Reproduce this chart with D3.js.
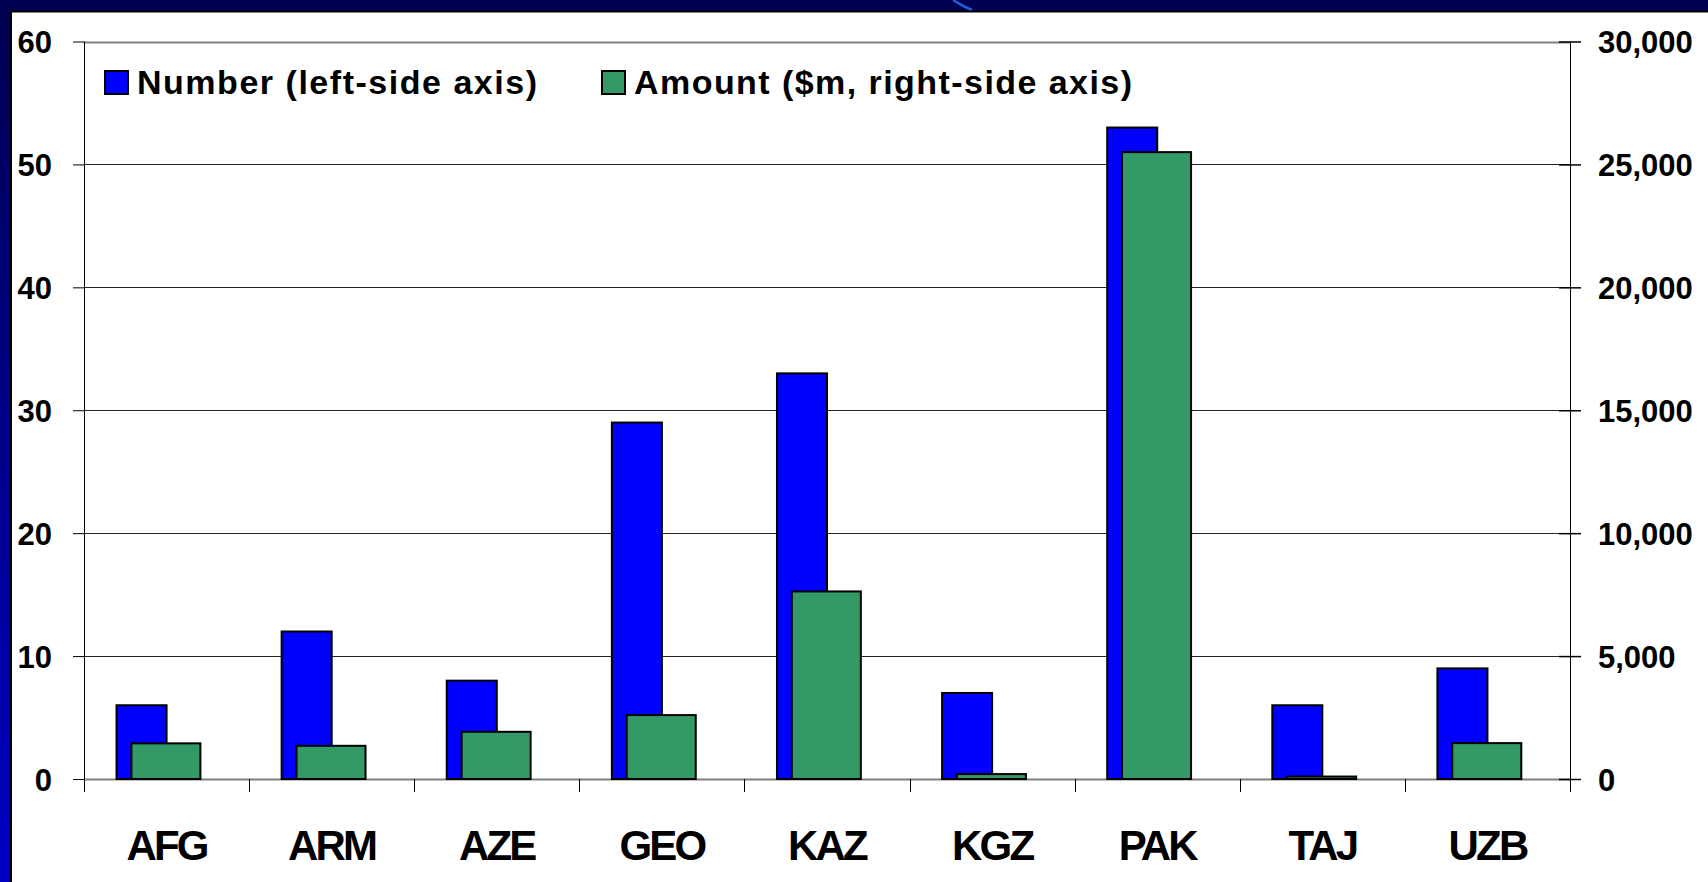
<!DOCTYPE html>
<html>
<head>
<meta charset="utf-8">
<script src="https://cdn.jsdelivr.net/npm/d3@7"></script>
<style>
  html, body { margin: 0; padding: 0; background: #fff; }
  svg { display: block; }
  text { font-family: "Liberation Sans", Arial, sans-serif; font-weight: bold; fill: #000; }
</style>
</head>
<body>
<svg id="chart" width="1708" height="882"></svg>
<script>
// Countries on the category axis
const categories = ["AFG", "ARM", "AZE", "GEO", "KAZ", "KGZ", "PAK", "TAJ", "UZB"];
// Number of operations (left-side axis)
const numberValues = [6, 12, 8, 29, 33, 7, 53, 6, 9];
// Amount in $m (right-side axis)
const amountValues = [1450, 1350, 1920, 2600, 7630, 200, 25500, 100, 1460];
// Axis tick values
const leftTicks = [0, 10, 20, 30, 40, 50, 60];
const rightTicks = [0, 5000, 10000, 15000, 20000, 25000, 30000];
// Legend entries
const legendLabels = ["Number (left-side axis)", "Amount ($m, right-side axis)"];

const svg = d3.select("#chart");
const W = 1708, H = 882;

// Slide frame: dark navy top band and a left band fading to bright blue
const defs = svg.append("defs");
const grad = defs.append("linearGradient").attr("id", "sideGrad")
  .attr("x1", 0).attr("y1", 0).attr("x2", 0).attr("y2", 1);
grad.append("stop").attr("offset", "0%").attr("stop-color", "#000050");
grad.append("stop").attr("offset", "100%").attr("stop-color", "#0000c4");

svg.append("rect").attr("x", 0).attr("y", 0).attr("width", W).attr("height", H).attr("fill", "#fff");
svg.append("rect").attr("x", 0).attr("y", 0).attr("width", 11).attr("height", H).attr("fill", "url(#sideGrad)");
svg.append("rect").attr("x", 0).attr("y", 0).attr("width", W).attr("height", 11).attr("fill", "#000050");
svg.append("path").attr("d", "M953,0 Q962,6 972,10").attr("stroke", "#1d5fe0").attr("stroke-width", 2.5).attr("fill", "none");
svg.append("line").attr("x1", 11).attr("x2", W).attr("y1", 11.5).attr("y2", 11.5).attr("stroke", "#000").attr("stroke-width", 2);
svg.append("line").attr("x1", 11).attr("x2", 11).attr("y1", 11).attr("y2", H).attr("stroke", "#000").attr("stroke-width", 2);

// Plot geometry
const plotLeft = 84, plotRight = 1570, plotTop = 41.5, plotBottom = 779;

const x = d3.scaleBand().domain(categories).range([plotLeft, plotRight]).padding(0);
const yL = d3.scaleLinear().domain([0, 60]).range([plotBottom, plotTop]);
const yR = d3.scaleLinear().domain([0, 30000]).range([plotBottom, plotTop]);
const bw = x.bandwidth();

// Horizontal gridlines
svg.append("g").selectAll("line").data(leftTicks).join("line")
  .attr("x1", plotLeft).attr("x2", plotRight)
  .attr("y1", d => Math.round(yL(d)) + 0.5).attr("y2", d => Math.round(yL(d)) + 0.5)
  .attr("stroke", d => (d === 0 || d === 60) ? "#808080" : "#222")
  .attr("stroke-width", d => (d === 0 || d === 60) ? 2 : 1.2);

// Bars: number series sits left of the category centre, amount series overlays it
const blueX0 = -0.303, blueX1 = 0.0;
const greenX0 = -0.213, greenX1 = 0.205;

svg.append("g").selectAll("rect").data(categories).join("rect")
  .attr("x", (d) => x(d) + bw / 2 + blueX0 * bw)
  .attr("width", (blueX1 - blueX0) * bw)
  .attr("y", (d, i) => yL(numberValues[i]))
  .attr("height", (d, i) => plotBottom - yL(numberValues[i]))
  .attr("fill", "#0000ff").attr("stroke", "#000").attr("stroke-width", 2);

svg.append("g").selectAll("rect").data(categories).join("rect")
  .attr("x", (d) => x(d) + bw / 2 + greenX0 * bw)
  .attr("width", (greenX1 - greenX0) * bw)
  .attr("y", (d, i) => yR(amountValues[i]))
  .attr("height", (d, i) => plotBottom - yR(amountValues[i]))
  .attr("fill", "#339966").attr("stroke", "#000").attr("stroke-width", 2);

// Left axis
const gL = svg.append("g").attr("transform", `translate(${plotLeft},0)`)
  .call(d3.axisLeft(yL).tickValues(leftTicks).tickSize(11).tickPadding(21).tickFormat(d3.format("d")));
gL.select(".domain").remove();
gL.selectAll(".tick line").attr("stroke", "#000").attr("stroke-width", 1);
gL.selectAll(".tick text").style("font-size", "31px").attr("font-family", null).attr("dy", "0.36em");
svg.append("line").attr("x1", plotLeft + 0.5).attr("x2", plotLeft + 0.5).attr("y1", plotTop).attr("y2", plotBottom + 13)
  .attr("stroke", "#000").attr("stroke-width", 1);

// Right axis (ticks cross the axis line)
const gR = svg.append("g").attr("transform", `translate(${plotRight},0)`)
  .call(d3.axisRight(yR).tickValues(rightTicks).tickSize(11).tickPadding(17).tickFormat(d3.format(",")));
gR.select(".domain").remove();
gR.selectAll(".tick line").attr("x1", -11).attr("stroke", "#000").attr("stroke-width", 1.5);
gR.selectAll(".tick text").style("font-size", "31px").attr("font-family", null).attr("dy", "0.36em");
svg.append("line").attr("x1", plotRight + 0.5).attr("x2", plotRight + 0.5).attr("y1", plotTop).attr("y2", plotBottom + 13)
  .attr("stroke", "#000").attr("stroke-width", 1);

// Category axis: boundary ticks and labels
const bounds = categories.map(c => x(c)).concat([plotRight]);
svg.append("g").selectAll("line").data(bounds).join("line")
  .attr("x1", d => Math.round(d) + 0.5).attr("x2", d => Math.round(d) + 0.5)
  .attr("y1", plotBottom).attr("y2", plotBottom + 13)
  .attr("stroke", "#000").attr("stroke-width", 1);

const gB = svg.append("g").attr("transform", `translate(0,${plotBottom})`)
  .call(d3.axisBottom(x).tickSize(0).tickPadding(0));
gB.select(".domain").remove();
gB.selectAll(".tick text")
  .attr("font-family", null)
  .attr("y", 81).attr("dy", 0)
  .style("font-size", "42px").style("letter-spacing", "-2.8px");

// Legend
const legendX = [105, 602];
const legendLen = [400, 498];
const legendColors = ["#0000ff", "#339966"];
const lg = svg.append("g");
legendLabels.forEach((label, i) => {
  lg.append("rect").attr("x", legendX[i]).attr("y", 71).attr("width", 23).attr("height", 23)
    .attr("fill", legendColors[i]).attr("stroke", "#000").attr("stroke-width", 2);
  lg.append("text").attr("x", legendX[i] + 32).attr("y", 94)
    .attr("textLength", legendLen[i]).attr("lengthAdjust", "spacing")
    .style("font-size", "34px").text(label);
});
</script>
</body>
</html>
